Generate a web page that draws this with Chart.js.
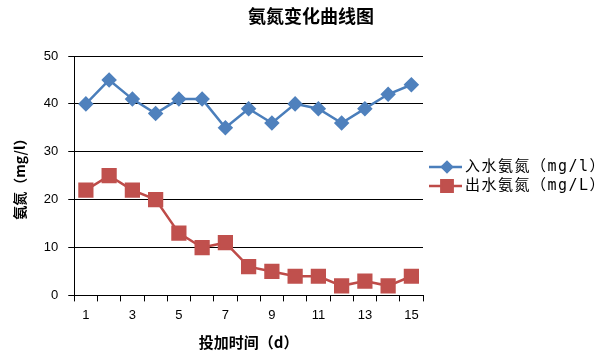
<!DOCTYPE html>
<html><head><meta charset="utf-8">
<script src="https://cdn.jsdelivr.net/npm/chart.js@4"></script>
<style>html,body{margin:0;padding:0;background:#fff}</style>
</head><body>
<canvas id="c" width="610" height="356"></canvas>
<script>
const days = ['1','2','3','4','5','6','7','8','9','10','11','12','13','14','15'];
const influent = [40,45,41,38,41,41,35,39,36,40,39,36,39,42,44];
const effluent = [22,25,22,20,13,10,11,6,5,4,4,2,3,2,4];
const seriesNames = ['入水氨氮（mg/l）','出水氨氮（mg/L）'];
const yTicks = [0,10,20,30,40,50];
const chartTitle = '氨氮变化曲线图';
const xTitle = '投加时间（d）';
const yTitle = '氨氮（mg/l）';

const cjk = '"Noto Sans CJK SC", sans-serif';
const legendFont = '"DejaVu Sans Mono", "Noto Sans CJK SC", monospace';
const tickFont = '"Liberation Sans", sans-serif';

const decorPlugin = {
  id: 'decor',
  afterDraw(chart) {
    const ctx = chart.ctx;
    ctx.save();
    ctx.fillStyle = '#000';
    ctx.font = 'bold 18px ' + cjk;
    ctx.textAlign = 'center';
    ctx.textBaseline = 'middle';
    ctx.fillText(chartTitle, 311, 16);
    ctx.restore();
    const x0 = 429, y0 = 167, gap = 19;
    chart.data.datasets.forEach((ds, i) => {
      const y = y0 + i * gap;
      ctx.save();
      ctx.strokeStyle = ds.borderColor;
      ctx.lineWidth = 2.5;
      ctx.beginPath(); ctx.moveTo(x0, y); ctx.lineTo(x0 + 33, y); ctx.stroke();
      ctx.fillStyle = ds.pointBackgroundColor;
      ctx.strokeStyle = ds.pointBackgroundColor;
      Chart.helpers.drawPoint(ctx, {pointStyle: ds.pointStyle, radius: ds.pointRadius - 1, rotation: 0, borderWidth: 1}, x0 + 18, y);
      ctx.fillStyle = '#000';
      ctx.font = '15px ' + legendFont;
      ctx.letterSpacing = '1.5px';
      ctx.textBaseline = 'middle';
      ctx.fillText(ds.label, x0 + 36, y);
      ctx.restore();
    });
  }
};

new Chart(document.getElementById('c'), {
  type: 'line',
  data: {
    labels: days,
    datasets: [
      {label: seriesNames[0], data: influent, borderColor: '#4A7EBB', backgroundColor: '#4F81BD',
       pointBackgroundColor: '#4F81BD', pointBorderColor: '#4F81BD', pointStyle: 'rectRot', pointRadius: 6,
       borderWidth: 2.5, tension: 0},
      {label: seriesNames[1], data: effluent, borderColor: '#BE4B48', backgroundColor: '#C0504D',
       pointBackgroundColor: '#C0504D', pointBorderColor: '#C0504D', pointStyle: 'rect', pointRadius: 9,
       borderWidth: 2.5, tension: 0}
    ]
  },
  options: {
    responsive: false,
    animation: false,
    layout: {padding: {left: 7, right: 187, top: 56, bottom: 1}},
    plugins: {
      legend: {display: false},
      tooltip: {enabled: false},
      title: {display: false}
    },
    scales: {
      x: {
        offset: true,
        grid: {offset: true, drawOnChartArea: false, drawTicks: true, tickLength: 6, color: '#000', lineWidth: 1},
        border: {color: '#000', width: 1},
        ticks: {autoSkip: false, maxRotation: 0, color: '#000', font: {family: tickFont, size: 13}, padding: 6,
          callback: function(v, i) { return i % 2 === 0 ? days[i] : ''; }},
        title: {display: true, text: xTitle, color: '#000', font: {family: cjk, size: 15, weight: 'bold'}, padding: {top: 4}}
      },
      y: {
        min: 0, max: 50,
        afterBuildTicks: (s) => { s.ticks = yTicks.map(v => ({value: v})); },
        grid: {color: '#000', lineWidth: 1, drawTicks: true, tickLength: 6},
        border: {color: '#000', width: 1},
        ticks: {color: '#000', font: {family: tickFont, size: 13}, padding: 10},
        title: {display: true, text: yTitle, color: '#000', font: {family: cjk, size: 14, weight: 'bold'}, padding: {bottom: 6}}
      }
    }
  },
  plugins: [decorPlugin]
});
</script>
</body></html>
